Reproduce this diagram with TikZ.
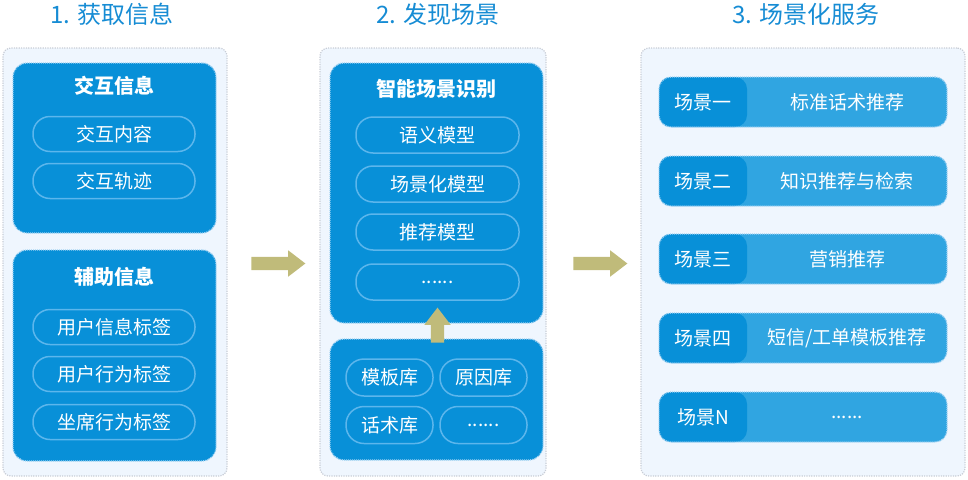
\documentclass[tikz,border=0pt]{standalone}
\usepackage{fontspec}
\setmainfont{Noto Sans CJK SC}
\usetikzlibrary{shapes.arrows}
\definecolor{boxblue}{RGB}{8,144,216}
\definecolor{barblue}{RGB}{48,165,225}
\definecolor{pillline}{RGB}{92,182,236}
\definecolor{panelfill}{RGB}{239,246,254}
\definecolor{panelline}{RGB}{200,205,214}
\definecolor{boxline}{RGB}{160,210,242}
\definecolor{headblue}{RGB}{22,140,212}
\definecolor{arrowkhaki}{RGB}{192,187,122}
\tikzset{
  % light column behind each step
  panel/.style={rectangle,rounded corners=8pt,fill=panelfill,draw=panelline,line width=1.2pt,dash pattern=on 1.2pt off 1.2pt,inner sep=0pt},
  % dark blue group box
  group/.style={rectangle,rounded corners=14pt,fill=boxblue,draw=boxline,line width=1.3pt,dash pattern=on 1pt off 1pt,inner sep=0pt},
  % group title
  gtitle/.style={text=white,font=\bfseries\fontsize{20}{20}\selectfont,inner sep=0pt},
  % step heading
  head/.style={text=headblue,font=\fontsize{24}{24}\selectfont,inner sep=0pt},
  % rounded item inside a group
  pill/.style={rectangle,rounded corners=17pt,draw=pillline,line width=1.5pt,text=white,font=\fontsize{19}{19}\selectfont,minimum width=162pt,minimum height=35pt,inner sep=0pt},
  spill/.style={pill,minimum width=87pt,minimum height=37pt,rounded corners=18pt},
  % scene bar, darker tag on the left
  scene/.style={rectangle,rounded corners=12pt,fill=barblue,draw=boxline,line width=1.3pt,dash pattern=on 1pt off 1pt,minimum width=288pt,minimum height=50pt,inner sep=0pt,
    path picture={\fill[boxblue] (path picture bounding box.south west) rectangle ([xshift=88pt]path picture bounding box.north west);}},
  stext/.style={text=white,font=\fontsize{19}{19}\selectfont,inner sep=0pt},
  % fat arrow between steps
  bigarrow/.style={single arrow,fill=arrowkhaki,draw=none,inner xsep=0pt,inner ysep=6.5pt,single arrow head extend=6.5pt,single arrow tip angle=75,single arrow head indent=0pt}
}
\begin{document}
\begin{tikzpicture}[x=1pt,y=-1pt]
\useasboundingbox (0,0) rectangle (968,479);
% headings
\node[head] (h1) at (112,14) {1. 获取信息};
\node[head] (h2) at (438,14) {2. 发现场景};
\node[head] (h3) at (806,14) {3. 场景化服务};
%%%%%%%%%%%%%%%%%%%%%%%%%%%%%%%%%%%%%%%
% step 1
\node[panel,minimum width=224pt,minimum height=428pt] (p1) at (115,262) {};
\node[group,minimum width=203pt,minimum height=170pt] (g1) at (114.5,148) {};
\node[gtitle] (t1) at (114.5,86) {交互信息};
\node[pill] (a1) at (114,134) {交互内容};
\node[pill] (a2) at (114,181) {交互轨迹};
\node[group,minimum width=203pt,minimum height=211pt] (g2) at (114.5,355.5) {};
\node[gtitle] (t2) at (114.5,277) {辅助信息};
\node[pill] (b1) at (114,327) {用户信息标签};
\node[pill] (b2) at (114,374) {用户行为标签};
\node[pill] (b3) at (114,422) {坐席行为标签};
%%%%%%%%%%%%%%%%%%%%%%%%%%%%%%%%%%%%%%%
% step 2
\node[panel,minimum width=226pt,minimum height=428pt] (p2) at (433,262) {};
\node[group,minimum width=213pt,minimum height=260pt] (g3) at (436.5,193) {};
\node[gtitle] (t3) at (436.5,89) {智能场景识别};
\node[pill,minimum width=163pt,minimum height=36pt] (m1) at (437.5,135) {语义模型};
\node[pill,minimum width=163pt,minimum height=36pt] (m2) at (437.5,184) {场景化模型};
\node[pill,minimum width=163pt,minimum height=36pt] (m3) at (437.5,232) {推荐模型};
\node[pill,minimum width=163pt,minimum height=36pt] (m4) at (437.5,282) {......};
\node[group,minimum width=213pt,minimum height=121pt] (g4) at (436.5,399.5) {};
\node[spill] (k1) at (389.5,377.5) {模板库};
\node[spill] (k2) at (483.5,377.5) {原因库};
\node[spill] (k3) at (389.5,425) {话术库};
\node[spill] (k4) at (483.5,425) {......};
\node[bigarrow,rotate=90,minimum height=35pt] (up) at (437.5,329.5) {};
%%%%%%%%%%%%%%%%%%%%%%%%%%%%%%%%%%%%%%%
% step 3
\node[panel,minimum width=324pt,minimum height=428pt] (p3) at (803,262) {};
\foreach \y/\tag/\txt [count=\i] in {102/场景一/标准话术推荐,181/场景二/知识推荐与检索,259/场景三/营销推荐,338/场景四/{短信/工单模板推荐},417/场景N/{......}}{
  \node[scene] (s\i) at (803,\y) {};
  \node[stext] at ([xshift=-100pt]s\i.center) {\tag};
  \node[stext] at ([xshift=44pt]s\i.center) {\txt};
}
%%%%%%%%%%%%%%%%%%%%%%%%%%%%%%%%%%%%%%%
% arrows between steps
\node[bigarrow,minimum height=54pt] (r1) at (274,263.5) {};
\node[bigarrow,minimum height=54pt] (r2) at (596,263.5) {};
\end{tikzpicture}
\end{document}
